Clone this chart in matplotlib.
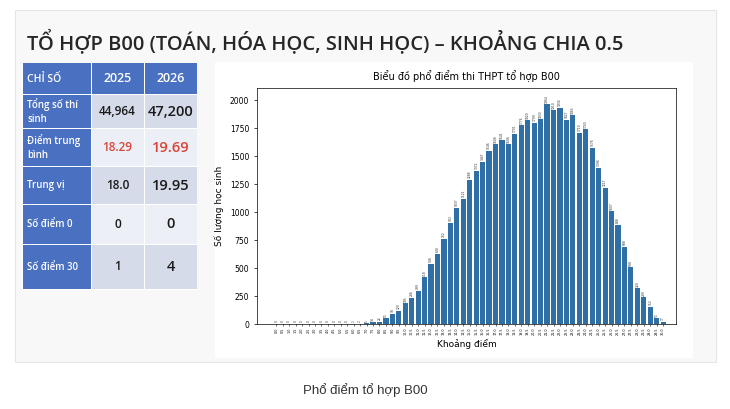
import numpy as np
import matplotlib
matplotlib.use('agg')
from matplotlib import pyplot as plt
from matplotlib.patches import Rectangle

# score bins 0.0 .. 30.0 step 0.5
scores = [i * 0.5 for i in range(61)]
counts = [0, 0, 0, 0, 0, 0, 0, 0, 0, 0, 0, 0, 1, 2, 5, 14, 22, 51, 90, 120,
          185, 236, 299, 418, 538, 628, 762, 903, 1037, 1121, 1288, 1372, 1447,
          1546, 1606, 1641, 1606, 1701, 1776, 1820, 1799, 1830, 1964, 1910, 1934,
          1827, 1865, 1710, 1740, 1576, 1396, 1217, 1007, 888, 688, 508, 320,
          239, 152, 51, 17]

row_labels = ['Tổng số thí\nsinh', 'Điểm trung\nbình', 'Trung vị', 'Số điểm 0', 'Số điểm 30']
col_2025 = ['44,964', '18.29', '18.0', '0', '1']
col_2026 = ['47,200', '19.69', '19.95', '0', '4']

W, H = 730, 409
fig = plt.figure(figsize=(7.3, 4.09), dpi=100)
fig.patch.set_facecolor('white')


def box(x0, y0, x1, y1, **kw):
    # pixel coords (top-left origin) -> figure fraction
    fig.patches.append(Rectangle((x0 / W, 1 - y1 / H), (x1 - x0) / W, (y1 - y0) / H,
                                 transform=fig.transFigure, **kw))


def txt(x, y, s, **kw):
    fig.text(x / W, 1 - y / H, s, **kw)


# slide
box(15, 10, 716, 362, facecolor='#f8f8f8', edgecolor='#e6e6e6', lw=0.8)
txt(27, 42, 'TỔ HỢP B00 (TOÁN, HÓA HỌC, SINH HỌC) – KHOẢNG CHIA 0.5',
    fontsize=14.5, fontweight='semibold', color='#262626', va='center', family='Open Sans')

# table
blue = '#4a70c2'
rows_y = [63, 95, 129, 167, 205, 245, 290]
cols_x = [22, 91, 144, 197]
box(cols_x[0], rows_y[0], cols_x[3], rows_y[-1], facecolor='white', edgecolor='none')
for j, h in enumerate(['CHỈ SỐ', '2025', '2026']):
    box(cols_x[j] + 0.5, rows_y[0], cols_x[j + 1] - 0.5, rows_y[1] - 1, facecolor=blue)
    if j == 0:
        txt(cols_x[j] + 5, (rows_y[0] + rows_y[1]) / 2, h, color='white', fontsize=7.5,
            fontweight='semibold', va='center', family='Open Sans')
    else:
        txt((cols_x[j] + cols_x[j + 1]) / 2, (rows_y[0] + rows_y[1]) / 2, h, color='white',
            fontsize=9, fontweight='semibold', va='center', ha='center', family='Open Sans')
for i, lab in enumerate(row_labels):
    y0, y1 = rows_y[i + 1], rows_y[i + 2] - 1
    ym = (y0 + y1) / 2
    fill = '#d5dbe8' if i % 2 == 0 else '#eceff5'
    box(cols_x[0] + 0.5, y0, cols_x[1] - 0.5, y1, facecolor=blue)
    box(cols_x[1] + 0.5, y0, cols_x[2] - 0.5, y1, facecolor=fill)
    box(cols_x[2] + 0.5, y0, cols_x[3] - 0.5, y1, facecolor=fill)
    txt(cols_x[0] + 5, ym, lab, color='white', fontsize=7, fontweight='semibold',
        va='center', family='Open Sans', linespacing=1.3)
    c = '#d9443a' if i == 1 else '#1a1a1a'
    txt((cols_x[1] + cols_x[2]) / 2, ym, col_2025[i], color=c, fontsize=8.5,
        va='center', ha='center', family='Open Sans', fontweight='semibold')
    txt((cols_x[2] + cols_x[3]) / 2, ym, col_2026[i], color=c, fontsize=10.5,
        va='center', ha='center', family='Open Sans', fontweight='semibold')

# chart image
box(215, 62, 693, 358, facecolor='white', edgecolor='none')
ax = fig.add_axes([257 / W, 1 - 324 / H, (676 - 257) / W, (324 - 88) / H])
ax.set_zorder(5)
bars = ax.bar(scores, counts, width=0.4, color='#2f6fa6')
for x, v in zip(scores, counts):
    ax.text(x, v + 15, str(v), rotation=90, fontsize=2.2, ha='center', va='bottom', color='#333333')
ax.set_xlim(-1.5, 31.0)
ax.set_ylim(0, 2110)
ax.set_xticks(scores)
ax.set_xticklabels([f'{s:.1f}' for s in scores], rotation=90, fontsize=2.4)
ax.set_yticks(range(0, 2001, 250))
ax.tick_params(axis='y', labelsize=5.5, length=2, width=0.5)
ax.tick_params(axis='x', length=1.5, width=0.4, pad=1)
ax.set_xlabel('Khoảng điểm', fontsize=6.5, labelpad=3)
ax.set_ylabel('Số lượng học sinh', fontsize=6.5, labelpad=4)
ax.set_title('Biểu đồ phổ điểm thi THPT tổ hợp B00', fontsize=7, pad=6)
for sp in ax.spines.values():
    sp.set_linewidth(0.5)

# caption
txt(365, 390, 'Phổ điểm tổ hợp B00', fontsize=9.5, ha='center', va='center',
    color='#333333', family='Liberation Sans')

fig.savefig('out.png', dpi=100, facecolor='white')
